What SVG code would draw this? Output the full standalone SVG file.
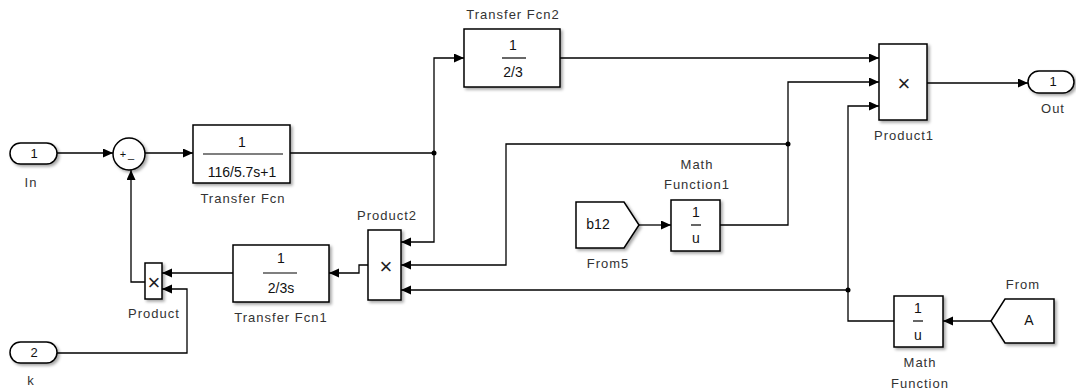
<svg xmlns="http://www.w3.org/2000/svg" width="1076" height="392" viewBox="0 0 1076 392">
<style>
.blk{fill:#fff;stroke:#000;stroke-width:1.5;filter:url(#sh)}
.ln{fill:none;stroke:#000;stroke-width:1.3}
.fr{stroke:#000;stroke-width:1.2}
text{font-family:"Liberation Sans",Arial,sans-serif;font-size:13px;letter-spacing:1px;fill:#333;text-anchor:middle}
.in{font-size:14px;letter-spacing:0;fill:#111}
.pt{font-size:13px;letter-spacing:0;fill:#111}
.big{font-size:22px;letter-spacing:0;fill:#222}
</style>
<defs>
<filter id="sh" x="-20%" y="-20%" width="150%" height="150%">
<feDropShadow dx="2" dy="2" stdDeviation="1.5" flood-color="#000" flood-opacity="0.35"/>
</filter>
<marker id="ar" markerWidth="11" markerHeight="10" refX="10" refY="4.5" orient="auto" markerUnits="userSpaceOnUse">
<path d="M0,0 L10,4.5 L0,9 Z" fill="#000"/>
</marker>
</defs>
<rect width="1076" height="392" fill="#fff"/>

<g id="connectors">
<path class="ln" d="M57,153 H113" marker-end="url(#ar)"/>
<path class="ln" d="M145,153 H193" marker-end="url(#ar)"/>
<path class="ln" d="M290,153 H434"/>
<path class="ln" d="M434,153 V58 H464" marker-end="url(#ar)"/>
<path class="ln" d="M434,153 V242 H401" marker-end="url(#ar)"/>
<path class="ln" d="M560,58 H879" marker-end="url(#ar)"/>
<path class="ln" d="M927,83 H1028" marker-end="url(#ar)"/>
<path class="ln" d="M639,225 H671" marker-end="url(#ar)"/>
<path class="ln" d="M720,225 H788 V82 H879" marker-end="url(#ar)"/>
<path class="ln" d="M788,144 H506 V265 H401" marker-end="url(#ar)"/>
<path class="ln" d="M991,321 H943" marker-end="url(#ar)"/>
<path class="ln" d="M894,321 H848 V106 H879" marker-end="url(#ar)"/>
<path class="ln" d="M848,290 H401" marker-end="url(#ar)"/>
<path class="ln" d="M368,265 H359 V273 H329" marker-end="url(#ar)"/>
<path class="ln" d="M233,273 H162" marker-end="url(#ar)"/>
<path class="ln" d="M57,353 H187 V289 H162" marker-end="url(#ar)"/>
<path class="ln" d="M145,282 H131 V170" marker-end="url(#ar)"/>
<circle cx="434" cy="153" r="2.5" fill="#000"/>
<circle cx="788" cy="144" r="2.5" fill="#000"/>
<circle cx="848" cy="290" r="2.5" fill="#000"/>
</g>

<g id="In">
<rect class="blk" x="10" y="143" width="47" height="21" rx="10.5"/>
<text class="pt" x="34" y="158">1</text>
<text x="31" y="187">In</text>
</g>

<g id="Sum">
<circle class="blk" cx="129" cy="154" r="16"/>
<text class="pt" x="123" y="158" style="font-size:11px">+</text>
<text class="pt" x="131" y="158" style="font-size:11px">_</text>
</g>

<g id="TransferFcn">
<rect class="blk" x="193" y="125" width="97" height="58"/>
<text class="in" x="242" y="147">1</text>
<line class="fr" x1="203" y1="154" x2="283" y2="154"/>
<text class="in" x="242" y="177">116/5.7s+1</text>
<text x="243" y="203">Transfer Fcn</text>
</g>

<g id="TransferFcn2">
<rect class="blk" x="464" y="29" width="96" height="58"/>
<text class="in" x="513" y="50">1</text>
<line class="fr" x1="502" y1="58" x2="526" y2="58"/>
<text class="in" x="513" y="77">2/3</text>
<text x="513" y="19">Transfer Fcn2</text>
</g>

<g id="Product2">
<rect class="blk" x="368" y="230" width="33" height="70"/>
<text class="big" x="386" y="274">×</text>
<text x="387" y="220">Product2</text>
</g>

<g id="TransferFcn1">
<rect class="blk" x="233" y="245" width="96" height="57"/>
<text class="in" x="281" y="263">1</text>
<line class="fr" x1="263" y1="273" x2="297" y2="273"/>
<text class="in" x="281" y="293">2/3s</text>
<text x="281" y="322">Transfer Fcn1</text>
</g>

<g id="Product">
<rect class="blk" x="145" y="263" width="17" height="36"/>
<text class="big" x="154" y="290">×</text>
<text x="154" y="318">Product</text>
</g>

<g id="k">
<rect class="blk" x="10" y="342" width="47" height="21" rx="10.5"/>
<text class="pt" x="34" y="357">2</text>
<text x="31" y="385">k</text>
</g>

<g id="Product1">
<rect class="blk" x="879" y="44" width="48" height="76"/>
<text class="big" x="904" y="91">×</text>
<text x="904" y="140">Product1</text>
</g>

<g id="Out">
<rect class="blk" x="1028" y="71" width="46" height="22" rx="11"/>
<text class="pt" x="1053" y="86">1</text>
<text x="1053" y="113">Out</text>
</g>

<g id="From5">
<path class="blk" d="M576,202 H624 L639,225 L624,248 H576 Z"/>
<text class="in" x="598" y="229">b12</text>
<text x="608" y="268">From5</text>
</g>

<g id="MathFunction1">
<rect class="blk" x="671" y="200" width="49" height="51"/>
<text class="in" x="696" y="217">1</text>
<line class="fr" x1="691" y1="225" x2="701" y2="225"/>
<text class="in" x="696" y="243">u</text>
<text x="697" y="169">Math</text>
<text x="697" y="189">Function1</text>
</g>

<g id="MathFunction">
<rect class="blk" x="894" y="296" width="49" height="51"/>
<text class="in" x="918" y="313">1</text>
<line class="fr" x1="913" y1="321" x2="923" y2="321"/>
<text class="in" x="918" y="340">u</text>
<text x="920" y="367">Math</text>
<text x="920" y="388">Function</text>
</g>

<g id="From">
<path class="blk" d="M991,321 L1005,299 H1054 V343 H1005 Z"/>
<text class="in" x="1029" y="325">A</text>
<text x="1023" y="289">From</text>
</g>
</svg>
